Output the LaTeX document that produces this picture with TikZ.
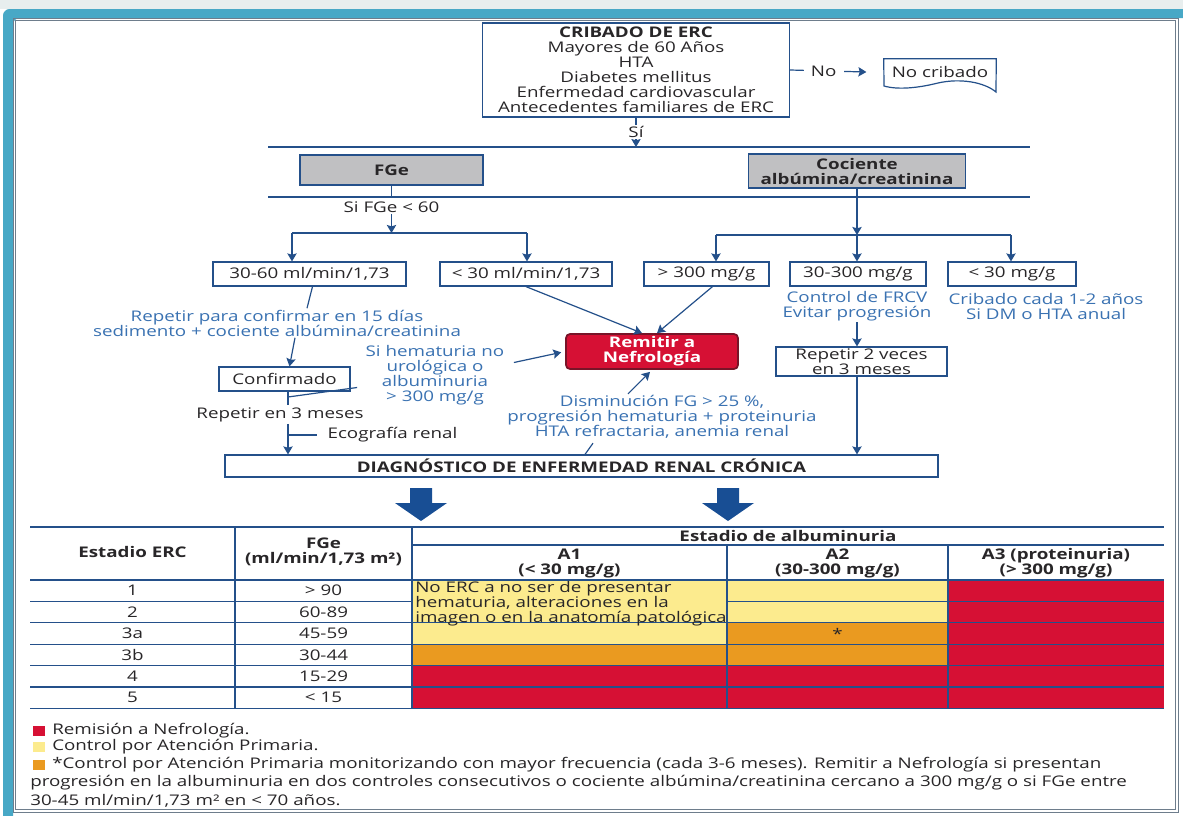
\documentclass[tikz,border=0pt]{standalone}
\usepackage{fontspec}
\setmainfont{Open Sans}[FakeStretch=1.28]
\usetikzlibrary{arrows.meta,calc}

\definecolor{frameteal}{RGB}{72,168,198}
\definecolor{framegray}{RGB}{110,125,140}
\definecolor{topgray}{RGB}{232,238,238}
\definecolor{lineblue}{RGB}{36,80,138}
\definecolor{noteblue}{RGB}{58,114,178}
\definecolor{inkdark}{RGB}{40,38,40}
\definecolor{boxgray}{RGB}{192,192,194}
\definecolor{remred}{RGB}{214,16,52}
\definecolor{remedge}{RGB}{120,20,40}
\definecolor{ctlyellow}{RGB}{252,235,142}
\definecolor{ctlorange}{RGB}{234,154,32}
\definecolor{bigarrow}{RGB}{24,78,148}

\newcommand\fmain{\fontsize{11}{11.25}\selectfont}

\begin{document}
\begin{tikzpicture}[x=0.75pt,y=-0.75pt,font=\fmain,
  box/.style={draw=lineblue,line width=0.9pt,fill=white,inner sep=0pt,align=center,text=inkdark},
  graybox/.style={box,fill=boxgray,font=\fmain\bfseries},
  remitbox/.style={draw=remedge,line width=1.3pt,fill=remred,rounded corners=3pt,inner sep=0pt,align=center,text=white,font=\fmain\bfseries},
  note/.style={text=noteblue,align=center,inner sep=1pt},
  plain/.style={text=inkdark,align=center,inner sep=1pt},
  cell/.style={text=inkdark,align=center,inner sep=0pt},
  head/.style={cell,font=\fmain\bfseries},
  leg/.style={text=inkdark,anchor=west,inner sep=0pt},
  swatch/.style={inner sep=0pt,minimum width=9pt,minimum height=7.5pt},
  conn/.style={draw=lineblue,line width=0.9pt},
  arr/.style={conn,-{Stealth[length=6pt,width=7pt,inset=1pt]}},
  grid/.style={draw=lineblue,line width=0.8pt},
  wh/.style 2 args={minimum width={#1*0.75pt},minimum height={#2*0.75pt}},
]
\useasboundingbox (0,0) rectangle (1183,815);

% page background and frame
\fill[white] (0,0) rectangle (1183,815);
\fill[topgray] (0,0) rectangle (1183,9);
\fill[frameteal,rounded corners=5pt] (3,830) -- (3,9) -- (1200,9) -- (1200,18) -- (13,18) -- (13,830) -- cycle;
\draw[framegray,line width=0.6pt] (13,18) rectangle (1178,812);
\draw[framegray,line width=0.4pt] (15.5,20.5) rectangle (1175.5,809.5);

% ---------- screening ----------
\node[box,wh={307}{94}] (crib) at (636,70)
  {\textbf{CRIBADO DE ERC}\\Mayores de 60 Años\\HTA\\Diabetes mellitus\\Enfermedad cardiovascular\\Antecedentes familiares de ERC};
\node[inner sep=0pt,wh={112}{26},text=inkdark] (nocrib) at (940,72) {No cribado};
\draw[conn,fill=white] (nocrib.north west) -- (nocrib.north east) -- (996,92)
  .. controls (984,82) and (960,78) .. (938,83)
  .. controls (918,88) and (898,90) .. (884,86) -- cycle;
\node[inner sep=0pt,text=inkdark] at (nocrib.center) {No cribado};
\draw[arr] (crib.east) -- node[pos=0.44,fill=white,inner xsep=5.5pt,inner ysep=1pt,text=inkdark]{No} ([xshift=-13pt]nocrib.west);

\coordinate (hl1a) at (268,147);
\coordinate (hl1b) at (1030,147);
\draw[conn] (hl1a) -- (hl1b);
\draw[arr] (crib.south) -- node[fill=white,inner ysep=1pt,inner xsep=2pt,text=inkdark]{Sí} (crib.south |- hl1a);

\node[graybox,wh={183}{30}] (fge) at (391.5,170) {FGe};
\node[graybox,wh={217}{34}] (coc) at (857,171) {Cociente\\albúmina/creatinina};

\coordinate (hl2a) at (268,197);
\coordinate (hl2b) at (1030,197);
\draw[conn] (hl2a) -- (hl2b);
\draw[conn] (fge.south) -- (fge.south |- hl2a);

% ---------- eGFR branch ----------
\node[plain] (sifge) at (391.5,207) {Si FGe < 60};
\coordinate (hl3a) at (292,233);
\coordinate (hl3b) at (527,233);
\draw[arr] (sifge.south) -- (sifge.south |- hl3a);
\draw[conn] (hl3a) -- (hl3b);

\node[box,wh={193}{24}] (b1) at (309.5,274) {30-60 ml/min/1,73};
\node[box,wh={172}{24}] (b2) at (526,274) {< 30 ml/min/1,73};
\draw[arr] (hl3a) -- (hl3a |- b1.north);
\draw[arr] (hl3b) -- (hl3b |- b2.north);

% ---------- albumin/creatinine branch ----------
\node[box,wh={125}{24}] (b3) at (706.5,274) {> 300 mg/g};
\node[box,wh={136}{24}] (b4) at (858,274) {30-300 mg/g};
\node[box,wh={128}{24}] (b5) at (1012,274) {< 30 mg/g};
\coordinate (hl4a) at (716,235);
\coordinate (hl4b) at (1011,235);
\draw[arr] (coc.south) -- (coc.south |- hl4a);
\draw[conn] (hl4a) -- (hl4b);
\draw[arr] (hl4a) -- (hl4a |- b3.north);
\draw[arr] (coc.south |- hl4a) -- (coc.south |- b4.north);
\draw[arr] (hl4b) -- (hl4b |- b5.north);

\node[note] (n2) at (857,306) {Control de FRCV\\Evitar progresión};
\node[note] (n3) at (1046,306) {Cribado cada 1-2 años\\Si DM o HTA anual};

\node[box,wh={171}{29}] (rep2) at (861.5,361.5) {Repetir 2 veces\\en 3 meses};
\draw[arr] (n2.south) -- (n2.south |- rep2.north);

% ---------- referral ----------
\node[remitbox,wh={172}{35}] (remit) at (652,351.5) {Remitir a\\Nefrología};
\draw[arr] (b2.south) -- ($(remit.north)+(-10,0)$);
\draw[arr] ($(b3.south)+(6,0)$) -- ($(remit.north)+(5,0)$);

\node[note] (n1) at (277,323) {Repetir para confirmar en 15 días\\sedimento + cociente albúmina/creatinina};
\draw[conn] ($(b1.south)+(3,0)$) -- ($(n1.north)+(30,0)$);

\node[note] (n4) at (435,375.5) {Si hematuria no\\urológica o\\albuminuria\\> 300 mg/g};
\draw[arr,shorten >=3pt] ($(n4.east)+(8,-13)$) -- (remit.west);

\node[note] (n5) at (662,417) {Disminución FG > 25 \%,\\progresión hematuria + proteinuria\\HTA refractaria, anemia renal};
\draw[arr] ($(n5.north)+(-34,0)$) -- ($(remit.south)+(-2,2)$);

% ---------- confirmation chain ----------
\node[box,wh={131}{24}] (conf) at (284.5,379) {Confirmado};
\draw[arr] ($(n1.south)+(18,0)$) -- ($(conf.north)+(5,0)$);
\coordinate (cj) at (288,397);
\draw[conn] (conf.south -| cj) -- ++(0,13);
\draw[conn] (cj) -- ($(n4.west)+(-7,12)$);

\node[plain] (rep3) at (280,415) {Repetir en 3 meses};
\node[plain,anchor=west] (eco) at (326,435) {Ecografía renal};

\node[box,wh={713}{22},font=\fmain\bfseries] (diag) at (581.5,466) {DIAGNÓSTICO DE ENFERMEDAD RENAL CRÓNICA};

\draw[arr] (rep3.south -| cj) -- (diag.north -| cj);
\draw[conn,shorten >=6.5pt] (eco.west -| cj) -- (eco.west);
\draw[arr] (rep2.south -| n2.south) -- (diag.north -| n2.south);
\draw[conn] ($(n5.south)+(-69,3)$) -- ($(diag.north)+(3.5,0)$);

% ---------- block arrows ----------
\fill[bigarrow] (410,488) -- (432,488) -- (432,503) -- (447,503) -- (421,521) -- (395,503) -- (410,503) -- cycle;
\fill[bigarrow] (717,488) -- (739,488) -- (739,503) -- (754,503) -- (728,521) -- (702,503) -- (717,503) -- cycle;

% ---------- staging table ----------
\fill[ctlyellow] (412,580) rectangle (727,644.2);
\fill[ctlorange] (412,644.2) rectangle (727,665.6);
\fill[ctlyellow] (727,580) rectangle (948,622.8);
\fill[ctlorange] (727,622.8) rectangle (948,665.6);
\fill[remred] (948,580) rectangle (1164,665.6);
\fill[remred] (412,665.6) rectangle (1164,708.4);

\draw[grid] (30,527) -- (1164,527);
\draw[grid] (412,545) -- (1164,545);
\draw[grid] (30,580) -- (1164,580);
\draw[grid] (30,601.4) -- (412,601.4) (727,601.4) -- (1164,601.4);
\foreach \yy in {622.8,644.2,665.6,687,708.4}
  \draw[grid] (30,\yy) -- (1164,\yy);
\draw[grid] (235,527) -- (235,708.4) (412,527) -- (412,708.4)
            (727,545) -- (727,708.4) (948,545) -- (948,708.4);

\node[head] (hst) at (132.5,552) {Estadio ERC};
\node[head] (hfg) at (323.5,552) {FGe\\(ml/min/1,73 m²)};
\node[head] (halb) at (788,535.5) {Estadio de albuminuria};
\node[head] (ha1) at (569.5,563) {A1\\(< 30 mg/g)};
\node[head] (ha2) at (837.5,563) {A2\\(30-300 mg/g)};
\node[head] (ha3) at (1056,563) {A3 (proteinuria)\\(> 300 mg/g)};

\foreach \st/\fg/\yy [count=\i] in {1/{> 90}/590.7, 2/{60-89}/612.1, 3a/{45-59}/633.5,
                                    3b/{30-44}/654.9, 4/{15-29}/676.3, 5/{< 15}/697.7}{
  \node[cell] (st\i) at (132.5,\yy) {\st};
  \node[cell] (fg\i) at (323.5,\yy) {\fg};
}
\node[cell,align=left,anchor=north west] (a1note) at (415,581)
  {No ERC a no ser de presentar\\hematuria, alteraciones en la\\imagen o en la anatomía patológica};
\node[cell] (a2star) at (837.5,633.5) {*};

% ---------- legend ----------
\node[swatch,fill=remred] (kred) at (39,731) {};
\node[swatch,fill=ctlyellow] (kyel) at (39,746.5) {};
\node[swatch,fill=ctlorange] (kora) at (39,764.5) {};
\node[leg] (lred) at (52,731) {Remisión a Nefrología.};
\node[leg] (lyel) at (52,746.5) {Control por Atención Primaria.};
\node[leg] (lora) at (52,764.5) {*Control por Atención Primaria monitorizando con mayor frecuencia (cada 3-6 meses). Remitir a Nefrología si presentan};
\node[leg] (lora2) at (30,783) {progresión en la albuminuria en dos controles consecutivos o cociente albúmina/creatinina cercano a 300 mg/g o si FGe entre};
\node[leg] (lora3) at (30,801) {30-45 ml/min/1,73 m² en < 70 años.};
\end{tikzpicture}
\end{document}
